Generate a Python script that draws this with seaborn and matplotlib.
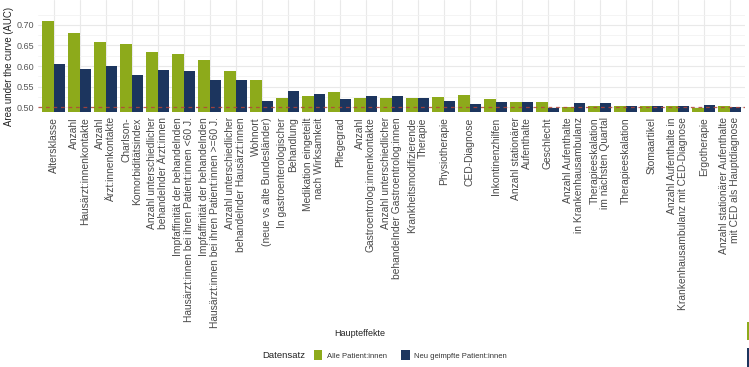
import pandas as pd
import numpy as np
import matplotlib
matplotlib.use("Agg")
import matplotlib.pyplot as plt
from matplotlib.patches import Patch, Rectangle
import seaborn as sns

# Data
effekte = [
    "Altersklasse",
    "Anzahl\nHausärzt:innenkontakte",
    "Anzahl\nÄrzt:innenkontakte",
    "Charlson-\nKomorbiditätsindex",
    "Anzahl unterschiedlicher\nbehandelnder Ärzt:innen",
    "Impfaffinität der behandelnden\nHausärzt:innen bei ihren Patient:innen <60 J.",
    "Impfaffinität der behandelnden\nHausärzt:innen bei ihren Patient:innen >=60 J.",
    "Anzahl unterschiedlicher\nbehandelnder Hausärzt:innen",
    "Wohnort\n(neue vs alte Bundesländer)",
    "In gastroenterologischer\nBehandlung",
    "Medikation eingeteilt\nnach Wirksamkeit",
    "Pflegegrad",
    "Anzahl\nGastroentrolog:innenkontakte",
    "Anzahl unterschiedlicher\nbehandelnder Gastroentrolog:innen",
    "Krankheitsmodifizierende\nTherapie",
    "Physiotherapie",
    "CED-Diagnose",
    "Inkontinenzhilfen",
    "Anzahl stationärer\nAufenthalte",
    "Geschlecht",
    "Anzahl Aufenthalte\nin Krankenhausambulanz",
    "Therapieeskalation\nim nächsten Quartal",
    "Therapieeskalation",
    "Stomaartikel",
    "Anzahl Aufenthalte in\nKrankenhausambulanz mit CED-Diagnose",
    "Ergotherapie",
    "Anzahl stationärer Aufenthalte\nmit CED als Hauptdiagnose",
]
auc_alle = [0.710, 0.680, 0.658, 0.654, 0.633, 0.629, 0.614, 0.589, 0.565, 0.523,
            0.528, 0.537, 0.523, 0.523, 0.523, 0.524, 0.529, 0.521, 0.513, 0.513,
            0.500, 0.503, 0.502, 0.502, 0.502, 0.499, 0.502]
auc_neu = [0.604, 0.593, 0.600, 0.577, 0.590, 0.588, 0.566, 0.566, 0.515, 0.540,
           0.532, 0.519, 0.527, 0.527, 0.522, 0.516, 0.507, 0.513, 0.513, 0.499,
           0.511, 0.509, 0.504, 0.502, 0.502, 0.505, 0.500]
datensatz = ["Alle Patient:innen", "Neu geimpfte Patient:innen"]
farben = {"Alle Patient:innen": "#8DAA1B", "Neu geimpfte Patient:innen": "#1C355E"}

df = pd.DataFrame({
    "Haupteffekte": effekte * 2,
    "AUC": auc_alle + auc_neu,
    "Datensatz": [datensatz[0]] * len(effekte) + [datensatz[1]] * len(effekte),
})

sns.set_theme(style="whitegrid")
plt.rcParams["font.family"] = ["Liberation Sans", "DejaVu Sans"]

fig = plt.figure(figsize=(7.49, 3.67), dpi=100)
ax = fig.add_axes([38 / 749, (367 - 111.7) / 367, (745.3 - 38) / 749, 111.7 / 367])

sns.barplot(data=df, x="Haupteffekte", y="AUC", hue="Datensatz", palette=farben,
            width=0.9, gap=0, saturation=1, edgecolor="none", linewidth=0,
            legend=False, ax=ax)

ax.axhline(0.5, color="#B5443A", linestyle=(0, (3, 3)), linewidth=0.9, alpha=0.85, zorder=3)

ax.set_ylim(0.489, 0.7605)
ax.set_xlim(-0.6, len(effekte) - 0.4)
ax.set_yticks([0.50, 0.55, 0.60, 0.65, 0.70])
ax.set_yticklabels([f"{v:.2f}" for v in [0.50, 0.55, 0.60, 0.65, 0.70]])
ax.set_yticks(np.arange(0.525, 0.76, 0.05), minor=True)

ax.set_axisbelow(True)
ax.grid(True, which="major", axis="both", color="#e9e9e9", linewidth=0.8)
ax.grid(True, which="minor", axis="y", color="#f2f2f2", linewidth=0.6)
for s in ax.spines.values():
    s.set_visible(False)

ax.tick_params(axis="y", labelsize=6.5, labelcolor="#555555", length=0, pad=3)
ax.tick_params(axis="x", length=0, pad=4)
ax.set_xticks(range(len(effekte)))
ax.set_xticklabels(effekte, rotation=90, fontsize=7.4, color="#4a4a4a",
                   ha="center", va="top", multialignment="right", linespacing=1.05)

ax.set_xlabel("")
ax.set_ylabel("")
fig.text(9 / 749, 1 - 66 / 367, "Area under the curve (AUC)", fontsize=6.9,
         color="#222222", rotation=90, ha="center", va="center")

fig.text(360 / 749, 1 - 333 / 367, "Haupteffekte", fontsize=6.5, color="#222222",
         ha="center", va="center")

# Legend
fig.text(305 / 749, 1 - 355 / 367, "Datensatz", fontsize=6.8, color="#222222",
         ha="right", va="center")
handles = [Patch(facecolor=farben[d], edgecolor="none", label=d) for d in datensatz]
fig.legend(handles=handles, loc="center left", bbox_to_anchor=(307 / 749, 1 - 355 / 367),
           ncol=2, frameon=False, fontsize=5.5, handlelength=1.1, handleheight=1.6,
           handletextpad=0.6, columnspacing=1.9, labelcolor="#333333")

# cut-off legend keys at the right edge of the screenshot
fig.patches.append(Rectangle((747 / 749, 1 - 340 / 367), 2 / 749, 18 / 367,
                             transform=fig.transFigure, facecolor=farben[datensatz[0]],
                             edgecolor="none"))
fig.patches.append(Rectangle((747 / 749, 0), 2 / 749, 19 / 367,
                             transform=fig.transFigure, facecolor=farben[datensatz[1]],
                             edgecolor="none"))

fig.savefig("out.png", dpi=100)
